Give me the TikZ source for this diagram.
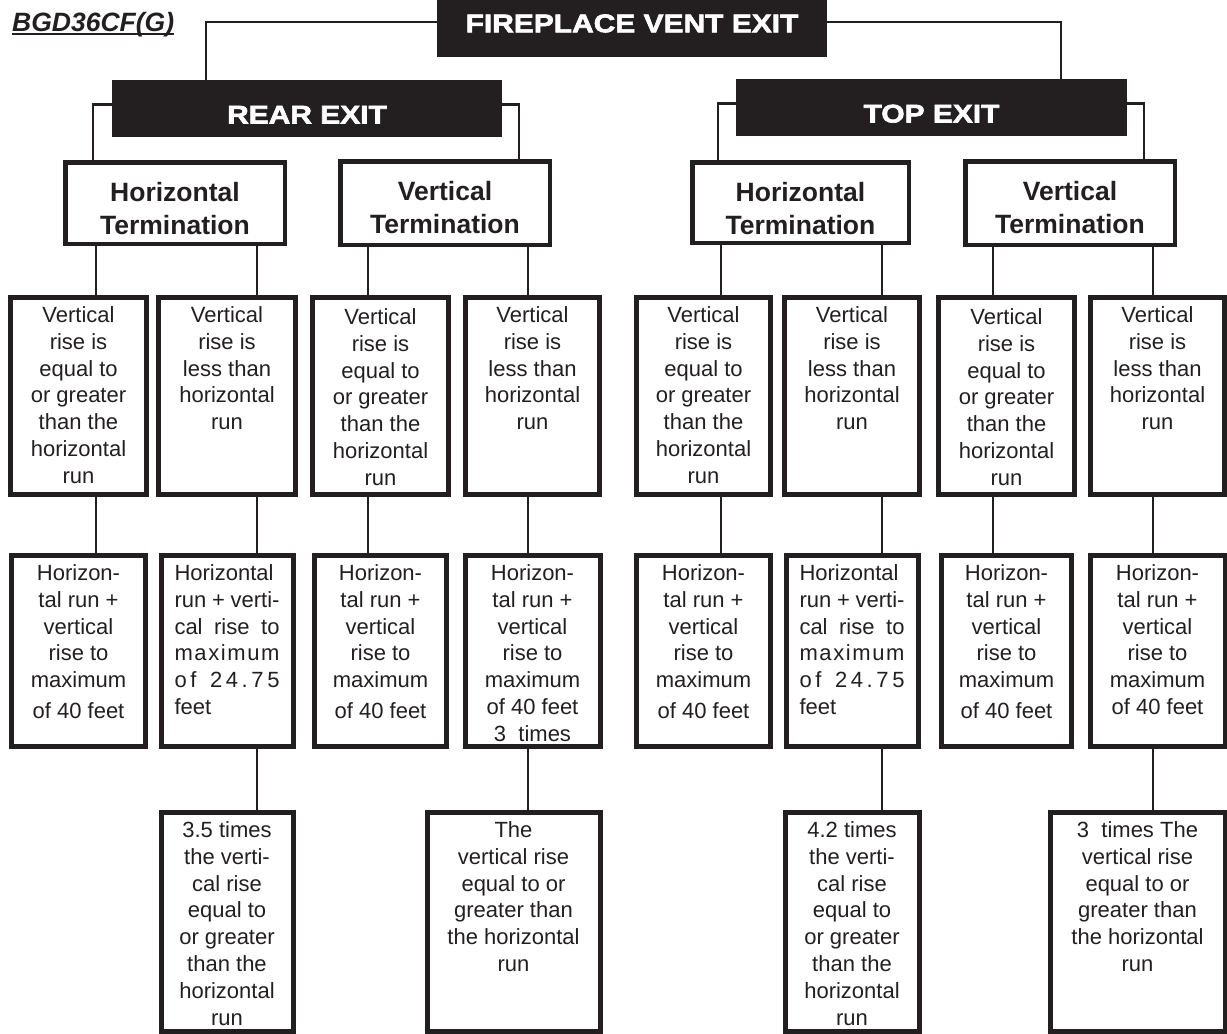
\documentclass[tikz,border=0pt]{standalone}
\usepackage{fontspec}
\setmainfont{Liberation Sans}
\newfontfamily\heavyfont[FakeStretch=1.17,FakeBold=2.4]{Liberation Sans Bold}
\usetikzlibrary{positioning}
\definecolor{ink}{HTML}{231F20}
\def\bx#1#2#3#4{\parbox[c][#2pt][t]{#1pt}{\centering\vspace*{#3pt}#4}}
\def\jline#1{\makebox[105pt][s]{#1}}
\def\lline#1{\makebox[105pt][l]{#1}}

\begin{document}
\begin{tikzpicture}[%
      x=1pt, y=-1pt,
      every node/.style={inner sep=0pt, text=ink},
      exitbox/.style={fill=ink, text=white, minimum width=390pt, minimum height=57pt,
        text height=30pt, text depth=0pt, font=\fontsize{25.6}{30}\selectfont\heavyfont},
      termbox/.style={draw=ink, line width=4.5pt, font=\fontsize{26.5}{33}\selectfont\bfseries},
      condbox/.style={draw=ink, line width=5pt, font=\fontsize{22}{26.8}\selectfont},
      link/.style={draw=ink, line width=2.2pt}
    ]
    \useasboundingbox (0,0) rectangle (1227,1034);
    \node [] (ttl) [anchor=base west, font=\fontsize{26.5}{30}\selectfont\bfseries\itshape] at (12,31.5) {BGD36CF(G)};
    \draw [draw=ink, line width=2pt] ([yshift=-2.5pt]ttl.base west) -- ([yshift=-2.5pt]ttl.base east);

    \node [exitbox] (fp) [minimum height=79.5pt] at (632,17.25) {FIREPLACE VENT EXIT};
    \node [exitbox] (rear) at (307,108.5) {REAR EXIT};
    \node [exitbox] (top) [minimum width=391pt] at (931.5,107.5) {TOP EXIT};

    \node [termbox] (hr) at (175,203) {\bx{219.5}{81.5}{20}{Horizontal\\Termination}};
    \node [termbox] (vr) at (445,203) {\bx{209.5}{83.5}{20}{Vertical\\Termination}};
    \node [termbox] (ht) at (800.5,202.5) {\bx{216.5}{80.5}{20}{Horizontal\\Termination}};
    \node [termbox] (vt) at (1070,203) {\bx{209.5}{83.5}{20}{Vertical\\Termination}};

    \node [condbox] (a1) at (78.5,396) {\bx{136}{197}{9}{Vertical\\rise is\\equal to\\or greater\\than the\\horizontal\\run}};
    \node [condbox] (a2) [right=7pt of a1] {\bx{137}{197}{9}{Vertical\\rise is\\less than\\horizontal\\run}};
    \node [condbox] (a3) [right=12pt of a2] {\bx{136}{197}{11}{Vertical\\rise is\\equal to\\or greater\\than the\\horizontal\\run}};
    \node [condbox] (a4) [right=12pt of a3] {\bx{134}{197}{9}{Vertical\\rise is\\less than\\horizontal\\run}};
    \node [condbox] (b1) [right=32pt of a4] {\bx{134}{197}{9}{Vertical\\rise is\\equal to\\or greater\\than the\\horizontal\\run}};
    \node [condbox] (b2) [right=9pt of b1] {\bx{135}{197}{9}{Vertical\\rise is\\less than\\horizontal\\run}};
    \node [condbox] (b3) [right=14pt of b2] {\bx{136}{197}{11}{Vertical\\rise is\\equal to\\or greater\\than the\\horizontal\\run}};
    \node [condbox] (b4) [right=11pt of b3] {\bx{134}{197}{9}{Vertical\\rise is\\less than\\horizontal\\run}};

    \node [condbox] (c1) [below=56pt of a1] {\bx{134}{191}{9}{Horizon-\\tal run +\\vertical\\rise to\\maximum\\[4pt]of 40 feet}};
    \node [condbox] (c2) [below=56pt of a2] {\bx{132}{191}{9}{\lline{Horizontal}\\\jline{run + verti-}\\\jline{cal rise to}\\\jline{m\hfil a\hfil x\hfil i\hfil m\hfil u\hfil m}\\\jline{o\hfil f\hskip 10pt plus 1fil 2\hfil 4\hfil .\hfil 7\hfil 5}\\\lline{feet}}};
    \node [condbox] (c3) [below=56pt of a3] {\bx{132}{191}{9}{Horizon-\\tal run +\\vertical\\rise to\\maximum\\[4pt]of 40 feet}};
    \node [condbox] (c4) [below=56pt of a4] {\bx{135}{191}{9}{Horizon-\\tal run +\\vertical\\rise to\\maximum\\of 40 feet\\3\ \ times}};
    \node [condbox] (d1) [below=56pt of b1] {\bx{134}{191}{9}{Horizon-\\tal run +\\vertical\\rise to\\maximum\\[4pt]of 40 feet}};
    \node [condbox] (d2) [below=56pt of b2] {\bx{132}{191}{9}{\lline{Horizontal}\\\jline{run + verti-}\\\jline{cal rise to}\\\jline{m\hfil a\hfil x\hfil i\hfil m\hfil u\hfil m}\\\jline{o\hfil f\hskip 10pt plus 1fil 2\hfil 4\hfil .\hfil 7\hfil 5}\\\lline{feet}}};
    \node [condbox] (d3) [below=56pt of b3] {\bx{130}{191}{9}{Horizon-\\tal run +\\vertical\\rise to\\maximum\\[4pt]of 40 feet}};
    \node [condbox] (d4) [below=56pt of b4] {\bx{135}{191}{9}{Horizon-\\tal run +\\vertical\\rise to\\maximum\\of 40 feet}};

    \node [condbox] (e2) [below=61pt of c2] {\bx{132}{219}{9}{3.5 times\\the verti-\\cal rise\\equal to\\or greater\\than the\\horizontal\\run}};
    \node [condbox] (e4) [below=61pt of c4.south east, anchor=north east] {\bx{173}{219}{9}{The\\vertical rise\\equal to or\\greater than\\the horizontal\\run}};
    \node [condbox] (f2) [below=61pt of d2] {\bx{134}{219}{9}{4.2 times\\the verti-\\cal rise\\equal to\\or greater\\than the\\horizontal\\run}};
    \node [condbox] (f4) [below=61pt of d4.south east, anchor=north east] {\bx{175}{219}{9}{3\ \ times The\\vertical rise\\equal to or\\greater than\\the horizontal\\run}};

    \coordinate (v1) at ([xshift=33pt]hr.south west);
    \coordinate (v2) at ([xshift=-30pt]hr.south east);
    \coordinate (v3) at ([xshift=30pt]vr.south west);
    \coordinate (v4) at ([xshift=-24pt]vr.south east);
    \coordinate (v5) at ([xshift=31pt]ht.south west);
    \coordinate (v6) at ([xshift=-29pt]ht.south east);
    \coordinate (v7) at ([xshift=30pt]vt.south west);
    \coordinate (v8) at ([xshift=-24pt]vt.south east);

    \path [link] ([yshift=-5pt]fp.west) -| ([xshift=94pt]rear.north west)
    ([yshift=-5pt]fp.east) -| ([xshift=325pt]top.north west)
    ([yshift=4pt]rear.west) -| ([xshift=30pt]hr.north west)
    ([yshift=4pt]rear.east) -| ([xshift=-33pt]vr.north east)
    ([yshift=4pt]top.west) -| ([xshift=28pt]ht.north west)
    ([yshift=4pt]top.east) -| ([xshift=-33pt]vt.north east)
    (v1) -- (v1 |- a1.north) (v1 |- a1.south) -- (v1 |- c1.north)
    (v2) -- (v2 |- a2.north) (v2 |- a2.south) -- (v2 |- c2.north) (v2 |- c2.south) -- (v2 |- e2.north)
    (v3) -- (v3 |- a3.north) (v3 |- a3.south) -- (v3 |- c3.north)
    (v4) -- (v4 |- a4.north) (v4 |- a4.south) -- (v4 |- c4.north) (v4 |- c4.south) -- (v4 |- e4.north)
    (v5) -- (v5 |- b1.north) (v5 |- b1.south) -- (v5 |- d1.north)
    (v6) -- (v6 |- b2.north) (v6 |- b2.south) -- (v6 |- d2.north) (v6 |- d2.south) -- (v6 |- f2.north)
    (v7) -- (v7 |- b3.north) (v7 |- b3.south) -- (v7 |- d3.north)
    (v8) -- (v8 |- b4.north) (v8 |- b4.south) -- (v8 |- d4.north) (v8 |- d4.south) -- (v8 |- f4.north)
    ;
  \end{tikzpicture}
\end{document}
